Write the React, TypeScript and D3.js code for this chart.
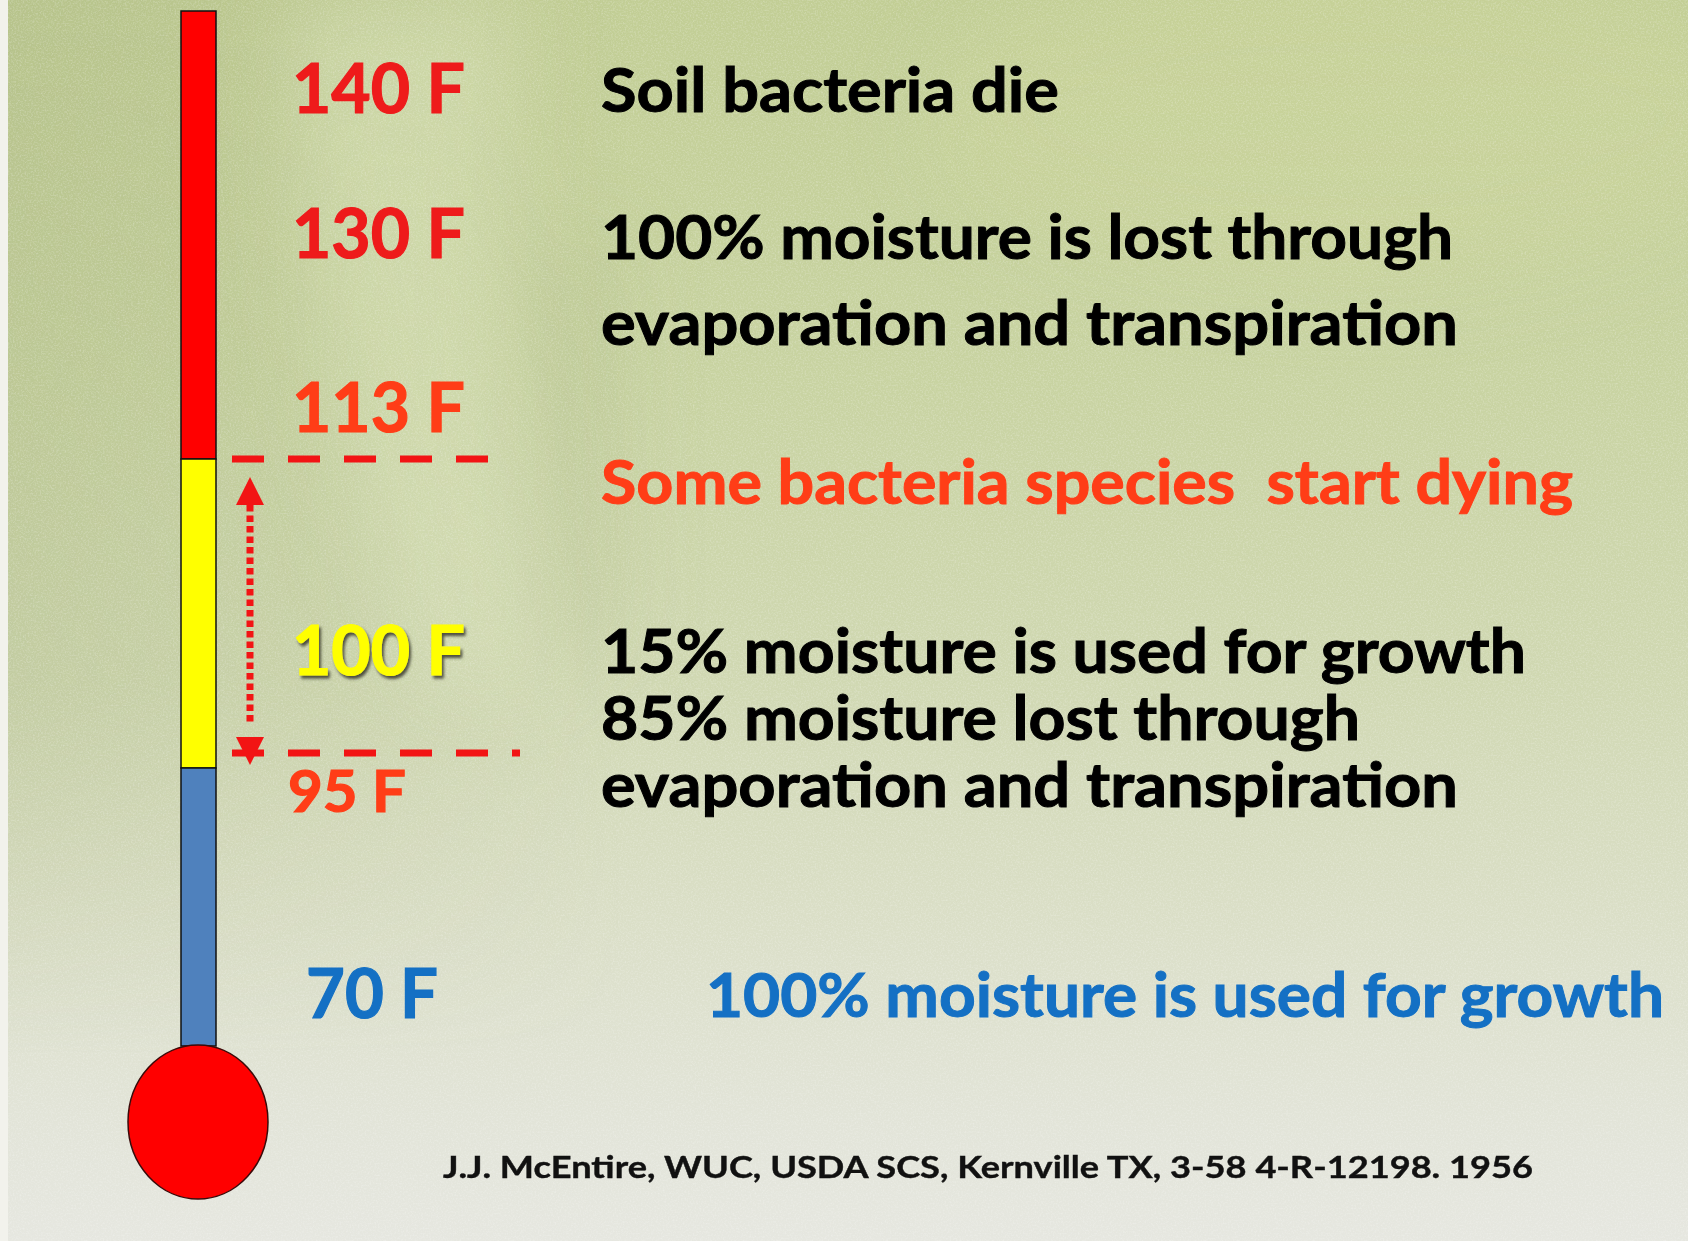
import * as d3 from "d3";

// Thermometer readings (deg F) and their labels
const tempTicks = [140, 130, 113, 100, 95, 70];
const tickLabels = ["140 F", "130 F", "113 F", "100 F", "95 F", "70 F"];

// Tube segments, top to bottom
const bandEdges = [150, 113, 95, 60];
const thresholds = [113, 95];

// Notes to the right of the thermometer
const noteTemps = [140, 130, 113, 100, 70];
const noteLines = [
  ["Soil bacteria die"],
  ["100% moisture is lost through", "evaporation and transpiration"],
  ["Some bacteria species  start dying"],
  [
    "15% moisture is used for growth",
    "85% moisture lost through",
    "evaporation and transpiration",
  ],
  ["100% moisture is used for growth"],
];
const citation =
  "J.J. McEntire, WUC, USDA SCS, Kernville TX, 3-58 4-R-12198. 1956";

// styles
const W = 1688;
const H = 1241;
const FONT = "Lato, 'Open Sans', sans-serif";
const RED = "#ff0000";
const ORANGE = "#ff3d17";
const BLUE = "#1470c4";
const DASH = "#f21414";
const bandColors = [RED, "#ffff00", "#4f81bd"];
const labelColors = ["#ee1b1b", "#ee1b1b", ORANGE, "#ffff00", ORANGE, BLUE];
const labelSizes = [69, 69, 69, 69, 58, 69];
const labelX = [292, 292, 292, 292, 288, 306];
const labelWidths = [173, 173, 173, 173, 118, 132];
const noteColors = ["#000", "#000", ORANGE, "#000", BLUE];
const noteX = [601, 601, 601, 601, 706];
const noteDy = [-1, 1, 72, -2, -1];
const noteGap = [0, 86, 0, 67, 0];
const noteWidths = [[458], [852, 857], [972], [925, 759, 857], [958]];
const thresholdDy = [0, -15];
const thresholdEnd = [488, 520];

export default function App() {
  // label baselines along the (non-uniform) thermometer scale
  const yLabel = d3
    .scaleLinear()
    .domain(tempTicks)
    .range([113, 258, 432, 675, 812, 1018]);
  // tube position
  const yTube = d3.scaleLinear().domain(bandEdges).range([11, 459, 768, 1046]);

  const tubeX = 181;
  const tubeW = 35;
  const bulbCx = 198;
  const bulbCy = yTube(60) + 76;
  const arrowX = 250;
  const arrowTop = yTube(113) + 18;
  const arrowBot = yTube(95) - 18;

  const bands = bandColors.map((c, i) => ({
    y0: yTube(bandEdges[i]),
    y1: yTube(bandEdges[i + 1]),
    color: c,
  }));

  return (
    <svg
      width={W}
      height={H}
      style={{ position: "absolute", left: 0, top: 0, display: "block" }}
    >
      <defs>
        <linearGradient id="bg" x1="0" y1="0" x2="0" y2="1">
          <stop offset="0" stopColor="#c2ce95" />
          <stop offset="0.3" stopColor="#c8d3a1" />
          <stop offset="0.55" stopColor="#d0d8b2" />
          <stop offset="0.75" stopColor="#dbdfc8" />
          <stop offset="0.9" stopColor="#e2e4d8" />
          <stop offset="1" stopColor="#e6e7e0" />
        </linearGradient>
        <linearGradient id="leftShade" x1="0" y1="0" x2="1" y2="0">
          <stop offset="0" stopColor="#a3b07a" stopOpacity="0.35" />
          <stop offset="1" stopColor="#a3b07a" stopOpacity="0" />
        </linearGradient>
        <linearGradient id="fadeDown" x1="0" y1="0" x2="0" y2="1">
          <stop offset="0" stopColor="#fff" stopOpacity="1" />
          <stop offset="0.55" stopColor="#fff" stopOpacity="0.8" />
          <stop offset="0.85" stopColor="#fff" stopOpacity="0" />
        </linearGradient>
        <mask id="fadeMask">
          <rect x={0} y={0} width={W} height={H} fill="url(#fadeDown)" />
        </mask>
        <filter id="soft" x="-50%" y="-50%" width="200%" height="200%">
          <feGaussianBlur stdDeviation="40" />
        </filter>
        <filter id="grain" x="0" y="0" width="100%" height="100%">
          <feTurbulence
            type="fractalNoise"
            baseFrequency="0.6"
            numOctaves="2"
            seed="3"
          />
          <feColorMatrix
            type="matrix"
            values="0 0 0 0 1  0 0 0 0 1  0 0 0 0 1  0 0 0 1.2 -0.5"
          />
        </filter>
        <filter id="shadow" x="-10%" y="-20%" width="130%" height="150%">
          <feDropShadow
            dx="2"
            dy="3"
            stdDeviation="1.8"
            floodColor="#3e3e30"
            floodOpacity="0.9"
          />
        </filter>
      </defs>

      {/* background */}
      <rect x={0} y={0} width={W} height={H} fill="#f2f2ec" />
      <rect x={8} y={0} width={W - 8} height={H} fill="url(#bg)" />
      <rect
        x={8}
        y={0}
        width={620}
        height={H}
        fill="url(#leftShade)"
        mask="url(#fadeMask)"
      />
      <g filter="url(#soft)" mask="url(#fadeMask)">
        <path
          d="M290,0 L520,0 Q470,300 560,700 L420,700 Q300,380 290,0 Z"
          fill="#e2e9c2"
          opacity={0.4}
        />
        <rect x={530} y={240} width={90} height={420} fill="#a8b47f" opacity={0.25} />
        <ellipse cx={1350} cy={120} rx={420} ry={160} fill="#cbd69c" opacity={0.5} />
      </g>
      <rect x={8} y={0} width={W - 8} height={H} filter="url(#grain)" opacity={0.45} />

      {/* thermometer tube */}
      {bands.map((b, i) => (
        <rect
          key={i}
          x={tubeX}
          y={b.y0}
          width={tubeW}
          height={b.y1 - b.y0}
          fill={b.color}
          stroke="#111"
          strokeWidth={1.5}
        />
      ))}
      <ellipse
        cx={bulbCx}
        cy={bulbCy}
        rx={70}
        ry={77}
        fill={RED}
        stroke="#3a0a0a"
        strokeWidth={1.5}
      />

      {/* threshold dashed lines */}
      {thresholds.map((t, i) => (
        <line
          key={t}
          x1={232}
          x2={thresholdEnd[i]}
          y1={yTube(t) + thresholdDy[i]}
          y2={yTube(t) + thresholdDy[i]}
          stroke={DASH}
          strokeWidth={7}
          strokeDasharray="32 24"
        />
      ))}

      {/* double arrow between thresholds */}
      <line
        x1={arrowX}
        x2={arrowX}
        y1={arrowTop + 28}
        y2={arrowBot - 28}
        stroke={DASH}
        strokeWidth={7}
        strokeDasharray="6.5 4"
      />
      <path
        d={`M${arrowX},${arrowTop} L${arrowX + 14},${arrowTop + 28} L${arrowX - 14},${arrowTop + 28} Z`}
        fill={DASH}
      />
      <path
        d={`M${arrowX},${arrowBot + 15} L${arrowX + 14},${arrowBot - 13} L${arrowX - 14},${arrowBot - 13} Z`}
        fill={DASH}
      />

      {/* temperature labels */}
      {tickLabels.map((lab, i) => (
        <text
          key={lab}
          x={labelX[i]}
          y={yLabel(tempTicks[i])}
          fill={labelColors[i]}
          stroke={labelColors[i]}
          strokeWidth={1.2}
          fontFamily={FONT}
          fontWeight={700}
          fontSize={labelSizes[i]}
          textLength={labelWidths[i]}
          lengthAdjust="spacingAndGlyphs"
          filter={tempTicks[i] === 100 ? "url(#shadow)" : undefined}
        >
          {lab}
        </text>
      ))}

      {/* notes */}
      {noteLines.map((lines, i) =>
        lines.map((line, j) => (
          <text
            key={`${i}-${j}`}
            x={noteX[i]}
            y={yLabel(noteTemps[i]) + noteDy[i] + j * noteGap[i]}
            fill={noteColors[i]}
            stroke={noteColors[i]}
            strokeWidth={1}
            fontFamily={FONT}
            fontWeight={700}
            fontSize={61}
            textLength={noteWidths[i][j]}
            lengthAdjust="spacingAndGlyphs"
            style={{ whiteSpace: "pre" }}
          >
            {line}
          </text>
        ))
      )}

      {/* source */}
      <text
        x={443}
        y={1178}
        fill="#111"
        stroke="#111"
        strokeWidth={0.4}
        fontFamily={FONT}
        fontWeight={700}
        fontSize={31}
        textLength={1090}
        lengthAdjust="spacingAndGlyphs"
      >
        {citation}
      </text>
    </svg>
  );
}
